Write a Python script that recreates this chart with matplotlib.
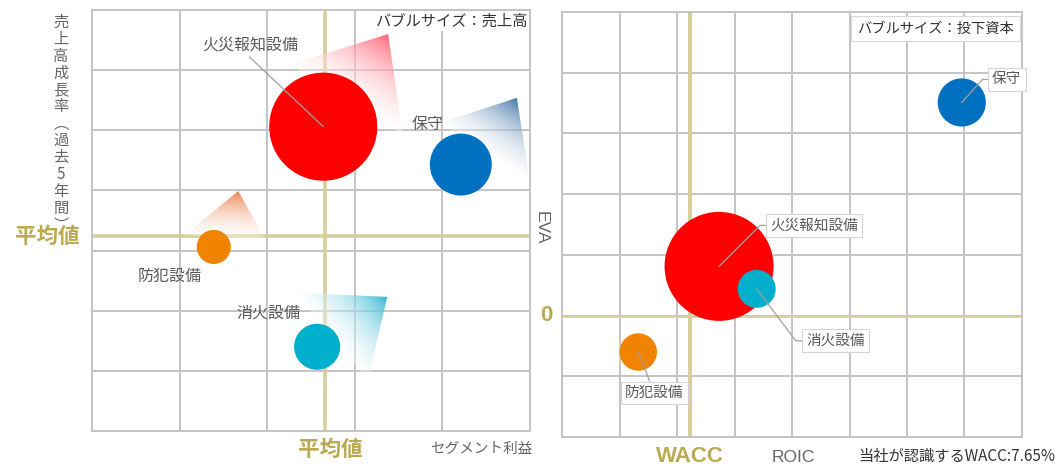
import numpy as np
import matplotlib
matplotlib.use("Agg")
import matplotlib.pyplot as plt
from matplotlib.patches import Polygon
from matplotlib.colors import to_rgb

plt.rcParams['font.family'] = ['Noto Sans CJK JP', 'DejaVu Sans']

segments = ['火災報知設備', '保守', '防犯設備', '消火設備']
colors = ['#FF0000', '#0070C0', '#F08300', '#00AFCC']
trend_colors = ['#FF3A50', '#0F5290', '#E86424', '#07A9CC']

# left chart: segment profit vs 5y sales growth, bubble = sales
profit = [26.4, 42.1, 13.9, 25.7]
growth = [50.6, 44.3, 30.6, 14.0]
sales = [29.2, 9.6, 2.9, 5.3]
avg_profit = 26.6
avg_growth = 32.4

# trend wedges on the left chart (tip and two base corners)
tip_x = [33.8, 48.5, 16.7, 33.7]
tip_y = [66.0, 55.4, 39.9, 22.3]
base1_x = [22.6, 39.7, 10.6, 23.2]
base1_y = [60.9, 51.2, 32.6, 23.0]
base2_x = [35.5, 50.0, 19.8, 31.5]
base2_y = [49.2, 41.4, 31.8, 8.5]

# right chart: ROIC vs EVA, bubble = invested capital
roic = [9.39, 23.9, 4.56, 11.64]
eva = [8.1, 35.1, -6.0, 4.4]
invested = [29.7, 5.8, 3.5, 3.6]
wacc = 7.65

GRID = '#C4C4C4'
KHAKI_LINE = '#D7CF9B'
KHAKI_TEXT = '#BAAA52'
TXT = '#595959'


def bubble_area(v):
    # radius in pixels = 10*sqrt(v); scatter wants pt^2
    r_pt = 10 * np.sqrt(np.asarray(v)) * 0.72
    return (2 * r_pt) ** 2


def gradient_wedge(ax, tip, b1, b2, color):
    poly = Polygon([tip, b1, b2], closed=True, facecolor='none', edgecolor='none')
    ax.add_patch(poly)
    xs = [tip[0], b1[0], b2[0]]
    ys = [tip[1], b1[1], b2[1]]
    x0, x1, y0, y1 = min(xs), max(xs), min(ys), max(ys)
    gx, gy = np.meshgrid(np.linspace(x0, x1, 240), np.linspace(y0, y1, 240))
    ex, ey = b2[0] - b1[0], b2[1] - b1[1]
    den = ex * (tip[1] - b1[1]) - ey * (tip[0] - b1[0])
    lam = (ex * (gy - b1[1]) - ey * (gx - b1[0])) / den
    t = np.clip(1 - lam, 0, 1)[..., None]
    u = t ** 0.7
    c = np.array(to_rgb(color))
    rgb = c * (1 - u) + np.ones(3) * u
    alpha = 0.88 * (1 - t) + 0.35 * t
    img = np.concatenate([rgb, alpha], axis=2)
    im = ax.imshow(img, extent=(x0, x1, y0, y1), origin='lower', aspect='auto',
                   interpolation='bilinear', zorder=2)
    im.set_clip_path(poly)


def style_axes(ax, xgrid, ygrid):
    ax.set_xticks(xgrid)
    ax.set_yticks(ygrid)
    ax.set_xlim(xgrid[0], xgrid[-1])
    ax.set_ylim(ygrid[0], ygrid[-1])
    ax.grid(True, color=GRID, lw=1.4, zorder=0)
    ax.set_axisbelow(True)
    ax.tick_params(length=0, labelbottom=False, labelleft=False)
    for sp in ax.spines.values():
        sp.set_color(GRID)
        sp.set_linewidth(1.4)


fig = plt.figure(figsize=(10.58, 4.66), dpi=100)
W, H = 1058, 466

# ---------------- left chart ----------------
ax1 = fig.add_axes([92 / W, 1 - 431 / H, 438 / W, 421 / H])
xg1 = np.linspace(0, 50, 6)
yg1 = np.linspace(0, 70, 8)
ax1.axvline(avg_profit, color=KHAKI_LINE, lw=2.6, zorder=1)
ax1.axhline(avg_growth, color=KHAKI_LINE, lw=2.6, zorder=1)

for i in range(len(segments)):
    gradient_wedge(ax1, (tip_x[i], tip_y[i]), (base1_x[i], base1_y[i]),
                   (base2_x[i], base2_y[i]), trend_colors[i])

ax1.scatter(profit, growth, s=bubble_area(sales), c=colors, edgecolors='none', zorder=3)
style_axes(ax1, xg1, yg1)

left_offsets = [(-73, 82), (-33, 40), (-44, -29), (-49, 34)]
for i, name in enumerate(segments):
    if i == 0:
        ax1.annotate(name, xy=(profit[i], growth[i]), xytext=left_offsets[i],
                     textcoords='offset pixels', ha='center', va='center',
                     fontsize=11.5, color=TXT, zorder=5,
                     arrowprops=dict(arrowstyle='-', color='#A0A0A0', lw=0.9,
                                     shrinkA=1, shrinkB=0, relpos=(0.45, 0.0)))
    else:
        ax1.annotate(name, xy=(profit[i], growth[i]), xytext=left_offsets[i],
                     textcoords='offset pixels', ha='center', va='center',
                     fontsize=11.5, color=TXT, zorder=5)

ax1.text(0.995, 0.974, 'バブルサイズ：売上高', transform=ax1.transAxes, ha='right',
         va='center', fontsize=11, color='#333333', zorder=6,
         bbox=dict(boxstyle='square,pad=0.1', fc='white', ec='none'))

ax1.annotate('平均値', xy=(47 / W, avg_growth), xycoords=('figure fraction', 'data'),
             ha='center', va='center', fontsize=15.5, fontweight='bold',
             color=KHAKI_TEXT, annotation_clip=False)
ax1.annotate('平均値', xy=(avg_profit, 1 - 449 / H), xycoords=('data', 'figure fraction'),
             xytext=(5, 0), textcoords='offset pixels',
             ha='center', va='center', fontsize=15.5, fontweight='bold',
             color=KHAKI_TEXT, annotation_clip=False)
fig.text(481 / W, 1 - 449 / H, 'セグメント利益', ha='center', va='center',
         fontsize=10.5, color='#666666')

ylabel = ['売', '上', '高', '成', '長', '率', '︵', '過', '去', '5', '年', '間', '︶']
fig.text(61 / W, 1 - 14 / H, '\n'.join(ylabel), ha='center', va='top',
         fontsize=11, color='#666666', linespacing=0.99)

# ---------------- right chart ----------------
ax2 = fig.add_axes([562 / W, 1 - 437 / H, 460 / W, 425 / H])
xg2 = np.linspace(0, 27.5, 9)
yg2 = np.linspace(-20, 50, 8)
ax2.axvline(wacc, color=KHAKI_LINE, lw=2.8, zorder=1)
ax2.axhline(0, color=KHAKI_LINE, lw=2.0, zorder=1)
ax2.scatter(roic, eva, s=bubble_area(invested), c=colors, edgecolors='none', zorder=3)
style_axes(ax2, xg2, yg2)

right_offsets = [(95, 41), (45, 23), (16, -41), (79, -52)]
right_conn = ['angle,angleA=0,angleB=45,rad=0', 'angle,angleA=0,angleB=48,rad=0',
              'arc3,rad=0', 'angle,angleA=0,angleB=-53,rad=0']
for i, name in enumerate(segments):
    ax2.annotate(name, xy=(roic[i], eva[i]), xytext=right_offsets[i],
                 textcoords='offset pixels', ha='center', va='center',
                 fontsize=10.5, color=TXT, zorder=5,
                 bbox=dict(boxstyle='square,pad=0.3', fc='white', ec='#D4D4D4', lw=0.8),
                 arrowprops=dict(arrowstyle='-', color='#A0A0A0', lw=0.9,
                                 shrinkA=0, shrinkB=0, connectionstyle=right_conn[i]))

ax2.text(0.812, 0.961, 'バブルサイズ：投下資本', transform=ax2.transAxes, ha='center',
         va='center', fontsize=10.3, color='#333333', zorder=6,
         bbox=dict(boxstyle='square,pad=0.4', fc='white', ec='#D8D8D8', lw=0.8))

ax2.annotate('WACC', xy=(wacc, 1 - 457 / H), xycoords=('data', 'figure fraction'),
             ha='center', va='center', fontsize=16, fontweight='bold',
             color=KHAKI_TEXT, family=['Liberation Sans'], annotation_clip=False)
ax2.annotate('0', xy=(546 / W, 0), xycoords=('figure fraction', 'data'),
             ha='center', va='center', fontsize=16, fontweight='bold',
             color=KHAKI_TEXT, family=['Liberation Sans'], annotation_clip=False)
fig.text(793 / W, 1 - 457 / H, 'ROIC', ha='center', va='center', fontsize=12.5,
         color='#666666', family=['Liberation Sans'])
fig.text(541 / W, 1 - 228 / H, 'EVA', ha='center', va='center', fontsize=12.5,
         color='#666666', rotation=270, family=['Liberation Sans'])
fig.text(1055 / W, 1 - 456 / H, '当社が認識するWACC:7.65%', ha='right', va='center',
         fontsize=11, color='#333333')

fig.savefig('out.png', dpi=100, facecolor='white')
